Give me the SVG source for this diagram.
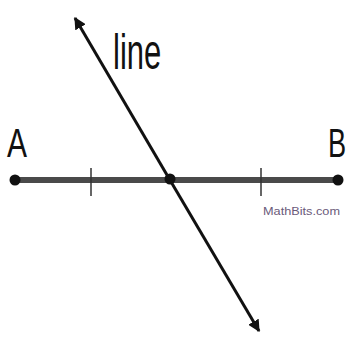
<svg xmlns="http://www.w3.org/2000/svg" width="349" height="343" viewBox="0 0 349 343">
<style>
.lbl{font-family:"Liberation Sans",Arial,sans-serif;fill:#111}
.tick{stroke:#333;stroke-width:1.5}
.dot{fill:#111}
</style>
<defs>
<marker id="ah" viewBox="0 0 10 10" refX="9" refY="5" markerWidth="4" markerHeight="4" orient="auto" markerUnits="strokeWidth">
<path d="M0,0 L10,5 L0,10 z" fill="#111"/>
</marker>
</defs>
<rect width="349" height="343" fill="#fff"/>
<g id="connectors">
<line x1="15" y1="180" x2="338" y2="180" stroke="#4a4a4a" stroke-width="6"/>
<line class="tick" x1="91" y1="168" x2="91" y2="196"/>
<line class="tick" x1="261" y1="168" x2="261" y2="196"/>
<line x1="167" y1="175" x2="75" y2="18" stroke="#111" stroke-width="3" marker-end="url(#ah)"/>
<line x1="167" y1="175" x2="259" y2="331" stroke="#111" stroke-width="3" marker-end="url(#ah)"/>
</g>
<g id="A"><circle class="dot" cx="15" cy="180" r="5.5"/><text class="lbl" transform="translate(7,157) scale(0.75,1)" font-size="40">A</text></g>
<g id="B"><circle class="dot" cx="338" cy="180" r="5.5"/><text class="lbl" transform="translate(328,157) scale(0.68,1)" font-size="40">B</text></g>
<g id="M"><circle class="dot" cx="170" cy="179" r="5.5"/></g>
<g id="label-line"><text class="lbl" transform="translate(113,69) scale(0.62,1)" font-size="50">line</text></g>
<g id="credit"><text x="263" y="215" font-family="Liberation Sans,Arial,sans-serif" font-size="11" fill="#6a5a7a" textLength="77" lengthAdjust="spacingAndGlyphs">MathBits.com</text></g>
</svg>
